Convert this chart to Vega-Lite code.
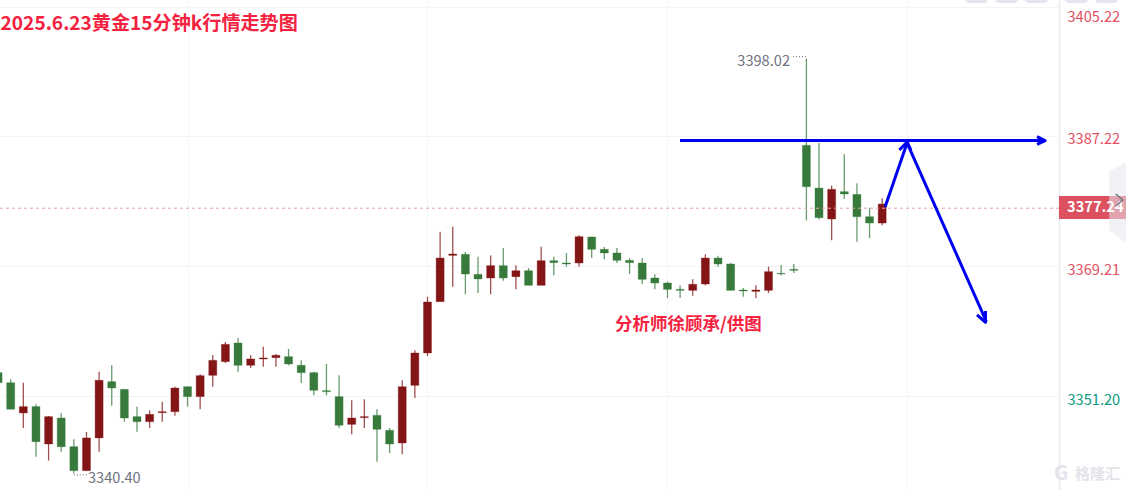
{"$schema":"https://vega.github.io/schema/vega-lite/v6.json","width":1059,"height":490,"autosize":{"type":"none"},"padding":{"left":0,"top":0,"right":67,"bottom":0},"background":"#ffffff","config":{"view":{"stroke":null},"font":"Noto Sans CJK SC"},
"datasets":{"candles":[
{"i":0,"o":3354.40,"h":3354.40,"l":3353.01,"c":3353.01},
{"i":1,"o":3353.01,"h":3353.47,"l":3349.31,"c":3349.31},
{"i":2,"o":3348.80,"h":3353.01,"l":3346.71,"c":3349.68},
{"i":3,"o":3349.68,"h":3350.00,"l":3342.73,"c":3344.81},
{"i":4,"o":3344.49,"h":3348.38,"l":3342.18,"c":3348.29},
{"i":5,"o":3348.10,"h":3348.75,"l":3343.43,"c":3344.12},
{"i":6,"o":3344.12,"h":3345.14,"l":3340.40,"c":3340.79},
{"i":7,"o":3340.79,"h":3346.16,"l":3340.79,"c":3345.33},
{"i":8,"o":3345.33,"h":3354.54,"l":3343.43,"c":3353.34},
{"i":9,"o":3353.15,"h":3355.42,"l":3349.81,"c":3352.27},
{"i":10,"o":3352.08,"h":3352.08,"l":3347.59,"c":3348.10},
{"i":11,"o":3348.29,"h":3349.68,"l":3346.20,"c":3347.59},
{"i":12,"o":3347.59,"h":3349.17,"l":3346.71,"c":3348.61},
{"i":13,"o":3348.84,"h":3350.37,"l":3347.59,"c":3348.98},
{"i":14,"o":3348.98,"h":3352.45,"l":3348.42,"c":3352.27},
{"i":15,"o":3352.45,"h":3352.45,"l":3349.68,"c":3351.07},
{"i":16,"o":3351.07,"h":3354.17,"l":3349.31,"c":3353.98},
{"i":17,"o":3354.03,"h":3356.85,"l":3352.45,"c":3356.11},
{"i":18,"o":3355.93,"h":3358.66,"l":3355.74,"c":3358.33},
{"i":19,"o":3358.52,"h":3359.21,"l":3354.54,"c":3355.42},
{"i":20,"o":3355.42,"h":3356.81,"l":3355.05,"c":3356.30},
{"i":21,"o":3356.30,"h":3358.01,"l":3355.23,"c":3356.44},
{"i":22,"o":3356.48,"h":3356.99,"l":3355.23,"c":3356.81},
{"i":23,"o":3356.62,"h":3357.69,"l":3355.42,"c":3355.60},
{"i":24,"o":3355.42,"h":3356.11,"l":3352.96,"c":3354.40},
{"i":25,"o":3354.40,"h":3354.54,"l":3351.25,"c":3351.95},
{"i":26,"o":3351.90,"h":3355.60,"l":3351.25,"c":3351.76},
{"i":27,"o":3351.07,"h":3354.03,"l":3346.71,"c":3347.09},
{"i":28,"o":3347.22,"h":3350.56,"l":3345.84,"c":3348.10},
{"i":29,"o":3348.15,"h":3350.69,"l":3346.71,"c":3348.29},
{"i":30,"o":3348.47,"h":3349.31,"l":3342.04,"c":3346.53},
{"i":31,"o":3346.39,"h":3346.71,"l":3343.24,"c":3344.49},
{"i":32,"o":3344.63,"h":3353.34,"l":3343.06,"c":3352.45},
{"i":33,"o":3352.64,"h":3357.50,"l":3350.88,"c":3357.13},
{"i":34,"o":3357.13,"h":3364.95,"l":3356.71,"c":3364.21},
{"i":35,"o":3364.26,"h":3373.98,"l":3364.26,"c":3370.32},
{"i":36,"o":3370.69,"h":3374.68,"l":3366.34,"c":3370.88},
{"i":37,"o":3370.83,"h":3371.16,"l":3365.28,"c":3368.10},
{"i":38,"o":3368.05,"h":3370.51,"l":3365.46,"c":3367.41},
{"i":39,"o":3367.55,"h":3370.69,"l":3365.28,"c":3369.26},
{"i":40,"o":3369.26,"h":3371.71,"l":3367.18,"c":3367.55},
{"i":41,"o":3367.73,"h":3369.30,"l":3365.97,"c":3368.56},
{"i":42,"o":3368.56,"h":3368.93,"l":3366.53,"c":3366.53},
{"i":43,"o":3366.53,"h":3371.90,"l":3366.53,"c":3369.95},
{"i":44,"o":3369.95,"h":3370.51,"l":3367.92,"c":3369.68},
{"i":45,"o":3369.63,"h":3371.02,"l":3369.12,"c":3369.49},
{"i":46,"o":3369.63,"h":3373.47,"l":3369.12,"c":3373.29},
{"i":47,"o":3373.24,"h":3373.29,"l":3370.32,"c":3371.53},
{"i":48,"o":3371.53,"h":3371.85,"l":3370.14,"c":3371.02},
{"i":49,"o":3371.02,"h":3371.71,"l":3369.63,"c":3370.00},
{"i":50,"o":3370.00,"h":3370.28,"l":3368.10,"c":3369.68},
{"i":51,"o":3369.63,"h":3370.32,"l":3366.71,"c":3367.36},
{"i":52,"o":3367.55,"h":3368.05,"l":3365.97,"c":3366.85},
{"i":53,"o":3366.85,"h":3367.04,"l":3364.77,"c":3365.97},
{"i":54,"o":3365.97,"h":3366.53,"l":3364.77,"c":3365.83},
{"i":55,"o":3365.83,"h":3367.36,"l":3365.09,"c":3366.67},
{"i":56,"o":3366.71,"h":3370.83,"l":3366.53,"c":3370.32},
{"i":57,"o":3370.32,"h":3370.65,"l":3369.12,"c":3369.49},
{"i":58,"o":3369.49,"h":3369.63,"l":3365.83,"c":3365.83},
{"i":59,"o":3365.88,"h":3366.16,"l":3364.95,"c":3365.74},
{"i":60,"o":3365.69,"h":3366.53,"l":3364.77,"c":3365.88},
{"i":61,"o":3365.83,"h":3369.12,"l":3365.46,"c":3368.43},
{"i":62,"o":3368.19,"h":3369.35,"l":3367.92,"c":3368.10},
{"i":63,"o":3368.75,"h":3369.49,"l":3368.24,"c":3368.61},
{"i":64,"o":3385.97,"h":3398.02,"l":3375.55,"c":3380.23},
{"i":65,"o":3380.04,"h":3386.29,"l":3375.69,"c":3375.92},
{"i":66,"o":3375.74,"h":3380.41,"l":3372.78,"c":3379.86},
{"i":67,"o":3379.54,"h":3384.72,"l":3378.52,"c":3379.21},
{"i":68,"o":3379.16,"h":3380.69,"l":3372.59,"c":3376.06},
{"i":69,"o":3376.06,"h":3377.31,"l":3373.10,"c":3375.18},
{"i":70,"o":3375.18,"h":3378.61,"l":3374.86,"c":3377.82}],
"arrows":[
{"seg":"h","ord":1,"i":53.99,"p":3386.64},{"seg":"h","ord":2,"i":82.8,"p":3386.64},
{"seg":"hh","ord":1,"i":82.26,"p":3387.17},{"seg":"hh","ord":2,"i":82.9,"p":3386.64},{"seg":"hh","ord":3,"i":82.26,"p":3386.12},
{"seg":"z","ord":1,"i":70.23,"p":3377.41},{"seg":"z","ord":2,"i":71.97,"p":3386.3},{"seg":"z","ord":3,"i":78.25,"p":3361.5},
{"seg":"uh","ord":1,"i":71.36,"p":3385.32},{"seg":"uh","ord":2,"i":71.97,"p":3386.44},{"seg":"uh","ord":3,"i":72.28,"p":3385.32},
{"seg":"dh","ord":1,"i":77.51,"p":3362.41},{"seg":"dh","ord":2,"i":78.18,"p":3361.4},{"seg":"dh","ord":3,"i":78.18,"p":3362.96}],
"labels":[
{"t":"2025.6.23黄金15分钟k行情走势图","i":0.2,"p":3402.82,"kind":"title"},
{"t":"分析师徐顾承/供图","i":48.85,"p":3361.02,"kind":"note"}],
"extremes":[
{"t":"3398.02","i":62.7,"p":3397.55,"a":"right"},
{"t":"3340.40","i":7.12,"p":3339.65,"a":"left"}],
"leaders":[{"i":62.94,"i2":64,"p":3398.3},{"i":6,"i2":7.04,"p":3340.2}],
"side":[{"i":87.97,"p":3382.31,"p2":3374.21},{"i":89.3,"p":3383.7,"p2":3372.41}],
"chev":[{"ord":1,"i":88.49,"p":3379.21},{"ord":2,"i":89.05,"p":3378.38},{"ord":3,"i":88.49,"p":3377.55}],
"price":[{"i":84,"i2":89.3,"p":3378.94,"p2":3375.75,"v":3377.24,"t":"3377.24","ti":84.64}],
"buttons":[{"i":76.56,"i2":78.38},{"i":78.93,"i2":80.75},{"i":81.31,"i2":83.13},{"i":84.48,"i2":86.3},{"i":86.85,"i2":88.67}],
"mark":[{"t":"格隆汇","i":85.27,"p":3340.33,"s":15},{"t":"G","i":83.6,"p":3340.33,"s":20}]},
"layer":[
{"data":{"name":"candles"},"mark":{"type":"rule","strokeWidth":1.3,"opacity":0.75},
"encoding":{"x":{"field":"i","type":"quantitative","scale":{"domain":[0.153,84.0],"nice":false,"zero":false,"padding":0},"axis":{"values":[15,34,53,72],"labels":false,"ticks":false,"domain":false,"title":null,"grid":true,"gridColor":"#f3f4f7","gridWidth":1}},
"y":{"field":"l","type":"quantitative","scale":{"domain":[3338.1,3406.16],"nice":false,"zero":false,"padding":0},"axis":{"orient":"right","values":[3351.20,3369.21,3387.22,3405.22],"format":".2f","title":null,"ticks":false,"domain":true,"domainColor":"#eeeff5","domainWidth":2,"grid":true,"gridColor":"#f3f4f7","gridWidth":1,"labelPadding":8,"labelFontSize":14.6,"labelFont":"Noto Sans CJK SC","labelBound":false,"labelColor":{"condition":{"test":"datum.value<3360","value":"#0a9a7f"},"value":"#e2505f"},"labelOffset":{"condition":[{"test":"datum.value>3400","value":11},{"test":"datum.value<3360","value":5},{"test":"datum.value<3375","value":4}],"value":3}}},
"y2":{"field":"h"},
"color":{"condition":{"test":"datum.c>=datum.o","value":"#841516"},"value":"#377a3b"}}},
{"data":{"name":"candles"},"mark":{"type":"bar","size":8,"strokeWidth":1,"strokeOpacity":0.35},
"encoding":{"x":{"field":"i","type":"quantitative"},"y":{"field":"o","type":"quantitative"},"y2":{"field":"c"},
"color":{"condition":{"test":"datum.c>=datum.o","value":"#841516"},"value":"#377a3b"},
"stroke":{"condition":{"test":"datum.c>=datum.o","value":"#841516"},"value":"#377a3b"}}},
{"data":{"name":"price"},"mark":{"type":"rule","stroke":"#e8a3ab","strokeDash":[3,3],"strokeWidth":1},"encoding":{"y":{"field":"v","type":"quantitative"}}},
{"data":{"name":"price"},"mark":{"type":"rect","color":"#dc5060","clip":false},"encoding":{"x":{"field":"i","type":"quantitative"},"x2":{"field":"i2"},"y":{"field":"p","type":"quantitative"},"y2":{"field":"p2"}}},
{"data":{"name":"side"},"mark":{"type":"area","color":"#e6e7ef","opacity":0.55},"encoding":{"x":{"field":"i","type":"quantitative"},"y":{"field":"p","type":"quantitative"},"y2":{"field":"p2"}}},
{"data":{"name":"price"},"mark":{"type":"text","align":"left","baseline":"middle","color":"#ffffff","fontWeight":"bold","fontSize":14.6,"font":"Noto Sans CJK SC"},"encoding":{"x":{"field":"ti","type":"quantitative"},"y":{"field":"v","type":"quantitative"},"text":{"field":"t"}}},
{"data":{"name":"chev"},"mark":{"type":"line","color":"#6f7382","strokeWidth":1.5},"encoding":{"x":{"field":"i","type":"quantitative"},"y":{"field":"p","type":"quantitative"},"order":{"field":"ord"}}},
{"data":{"name":"buttons"},"mark":{"type":"rect","color":"#e3e6ee","cornerRadius":4,"y":-6,"y2":3},"encoding":{"x":{"field":"i","type":"quantitative"},"x2":{"field":"i2"}}},
{"data":{"name":"arrows"},"mark":{"type":"line","color":"#0000f0","strokeWidth":3,"strokeJoin":"round"},"encoding":{"x":{"field":"i","type":"quantitative"},"y":{"field":"p","type":"quantitative"},"detail":{"field":"seg"},"order":{"field":"ord"}}},
{"data":{"name":"labels"},"transform":[{"filter":"datum.kind=='title'"}],"mark":{"type":"text","align":"left","baseline":"middle","color":"#f5223f","fontWeight":"bold","fontSize":19.1,"font":"Noto Sans CJK SC"},"encoding":{"x":{"field":"i","type":"quantitative"},"y":{"field":"p","type":"quantitative"},"text":{"field":"t"}}},
{"data":{"name":"labels"},"transform":[{"filter":"datum.kind=='note'"}],"mark":{"type":"text","align":"left","baseline":"middle","color":"#f5223f","fontWeight":"bold","fontSize":17.5,"font":"Noto Sans CJK SC"},"encoding":{"x":{"field":"i","type":"quantitative"},"y":{"field":"p","type":"quantitative"},"text":{"field":"t"}}},
{"data":{"name":"extremes"},"transform":[{"filter":"datum.a=='right'"}],"mark":{"type":"text","align":"right","baseline":"middle","color":"#6e7280","fontSize":14.6,"font":"Noto Sans CJK SC"},"encoding":{"x":{"field":"i","type":"quantitative"},"y":{"field":"p","type":"quantitative"},"text":{"field":"t"}}},
{"data":{"name":"extremes"},"transform":[{"filter":"datum.a=='left'"}],"mark":{"type":"text","align":"left","baseline":"middle","color":"#6e7280","fontSize":14.6,"font":"Noto Sans CJK SC"},"encoding":{"x":{"field":"i","type":"quantitative"},"y":{"field":"p","type":"quantitative"},"text":{"field":"t"}}},
{"data":{"name":"leaders"},"mark":{"type":"rule","stroke":"#6e7280","strokeDash":[1,2],"strokeWidth":1},"encoding":{"x":{"field":"i","type":"quantitative"},"x2":{"field":"i2"},"y":{"field":"p","type":"quantitative"}}},
{"data":{"name":"mark"},"mark":{"type":"text","align":"left","baseline":"middle","color":"#e3e4ea","fontWeight":"bold","font":"Noto Sans CJK SC"},"encoding":{"x":{"field":"i","type":"quantitative"},"y":{"field":"p","type":"quantitative"},"text":{"field":"t"},"size":{"field":"s","type":"quantitative","scale":null,"legend":null}}}
]}
